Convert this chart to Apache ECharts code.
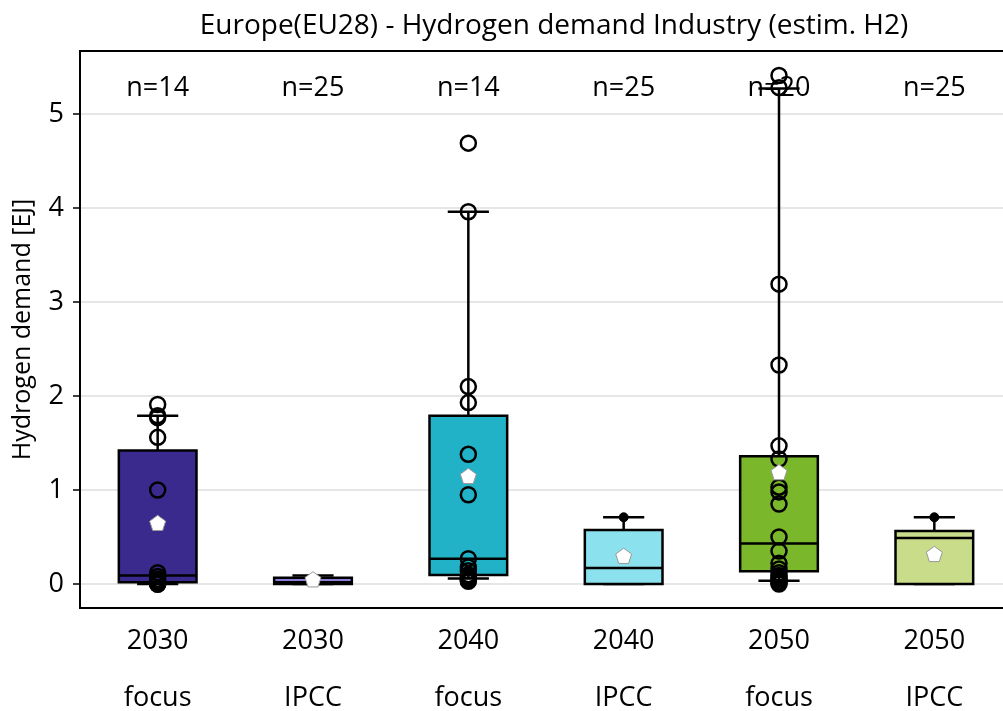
<!DOCTYPE html>
<html>
<head>
<meta charset="utf-8">
<script src="https://cdn.jsdelivr.net/npm/echarts@6/dist/echarts.min.js"></script>
<style>html,body{margin:0;padding:0;background:#fff}#chart{width:1003px;height:711px}</style>
</head>
<body>
<div id="chart"></div>
<script>
// ---- data ----
const years = ['2030', '2030', '2040', '2040', '2050', '2050'];
const groups = ['focus', 'IPCC', 'focus', 'IPCC', 'focus', 'IPCC'];
const nCounts = [14, 25, 14, 25, 20, 25];
const whiskerLow = [0.0, 0.0, 0.06, 0.0, 0.035, 0.0];
const q1 = [0.02, 0.0, 0.096, 0.0, 0.135, 0.0];
const median = [0.09, 0.02, 0.27, 0.17, 0.43, 0.49];
const q3 = [1.42, 0.067, 1.79, 0.574, 1.36, 0.564];
const whiskerHigh = [1.79, 0.09, 3.96, 0.71, 5.27, 0.71];
const means = [0.65, 0.05, 1.15, 0.30, 1.19, 0.32];
const points2030focus = [1.91, 1.79, 1.77, 1.56, 1.0, 0.12, 0.08, 0.05, 0.03, 0.02, 0.01, 0.0, 0.0, 0.0];
const points2040focus = [4.69, 3.96, 2.10, 1.93, 1.38, 0.95, 0.27, 0.18, 0.14, 0.10, 0.08, 0.06, 0.04, 0.03];
const points2050focus = [5.41, 5.28, 3.19, 2.33, 1.47, 1.33, 1.03, 0.98, 0.85, 0.50, 0.35, 0.22, 0.16, 0.12, 0.09, 0.07, 0.05, 0.03, 0.01, 0.0];
const fliers2040IPCC = [0.71];
const fliers2050IPCC = [0.71];
const yTicks = [0, 1, 2, 3, 4, 5];
const boxColors = ['#3b2a8d', '#8c7fd8', '#21b2c7', '#8ce1ef', '#7ab72b', '#c9dc8a'];

// ---- build ----
const FONT = 'Open Sans';
const catLabels = years.map((y, i) => y + '\n\n' + groups[i]);
const boxData = years.map((_, i) => [i, whiskerLow[i], q1[i], median[i], q3[i], whiskerHigh[i]]);
const pointData = [];
points2030focus.forEach(v => pointData.push([0, v]));
points2040focus.forEach(v => pointData.push([2, v]));
points2050focus.forEach(v => pointData.push([4, v]));
const flierData = [];
fliers2040IPCC.forEach(v => flierData.push([3, v]));
fliers2050IPCC.forEach(v => flierData.push([5, v]));
const meanData = means.map((m, i) => [i, m]);
const nLabelData = nCounts.map((n, i) => [i, 5.27, n]);

const pentagon = 'path://M0,-1 L0.951,-0.309 L0.588,0.809 L-0.588,0.809 L-0.951,-0.309 Z';

const chart = echarts.init(document.getElementById('chart'), null, {renderer: 'canvas'});
chart.setOption({
  animation: false,
  backgroundColor: '#fff',
  title: {
    text: 'Europe(EU28) - Hydrogen demand Industry (estim. H2)',
    left: 549, top: 7, textAlign: 'center',
    textStyle: {fontFamily: FONT, fontSize: 28, fontWeight: 'normal', color: '#000'}
  },
  grid: {
    left: 80, top: 51, width: 932, height: 557,
    outerBoundsMode: 'none', containLabel: false,
    show: true, borderColor: '#000', borderWidth: 2, backgroundColor: 'transparent'
  },
  xAxis: {
    type: 'category', data: catLabels, boundaryGap: true,
    axisLine: {onZero: false, lineStyle: {color: '#000', width: 2}},
    axisTick: {alignWithLabel: true, length: 7, lineStyle: {color: '#000', width: 1.5}},
    axisLabel: {fontFamily: FONT, fontSize: 27, color: '#000', margin: 19, lineHeight: 28.5},
    splitLine: {show: false}
  },
  yAxis: {
    type: 'value', min: -0.255, max: 5.67,
    name: 'Hydrogen demand [EJ]', nameLocation: 'middle', nameGap: 45,
    nameTextStyle: {fontFamily: FONT, fontSize: 25, color: '#000'},
    axisLine: {show: true, onZero: false, lineStyle: {color: '#000', width: 2}},
    axisTick: {show: true, length: 7, customValues: yTicks, lineStyle: {color: '#000', width: 1.5}},
    axisLabel: {fontFamily: FONT, fontSize: 27, color: '#000', margin: 16, customValues: yTicks},
    splitLine: {show: true, lineStyle: {color: '#e6e6e6', width: 2}}
  },
  series: [
    {
      type: 'scatter', z: 1, silent: true,
      data: nLabelData, symbolSize: 0,
      itemStyle: {opacity: 1},
      label: {
        show: true, position: 'inside', formatter: p => 'n=' + p.value[2],
        fontFamily: FONT, fontSize: 27, color: '#000'
      }
    },
    {
      type: 'custom', z: 2,
      data: boxData,
      encode: {x: 0, y: [1, 2, 3, 4, 5]},
      renderItem: function (params, api) {
        const i = api.value(0);
        const x = api.coord([i, 0])[0];
        const yLow = api.coord([i, api.value(1)])[1];
        const yQ1 = api.coord([i, api.value(2)])[1];
        const yMed = api.coord([i, api.value(3)])[1];
        const yQ3 = api.coord([i, api.value(4)])[1];
        const yHigh = api.coord([i, api.value(5)])[1];
        const bw = api.size([1, 0])[0] * 0.5;
        const cw = bw * 0.53;
        const ls = {stroke: '#000', lineWidth: 2.5};
        return {
          type: 'group',
          children: [
            {type: 'line', shape: {x1: x, y1: yHigh, x2: x, y2: yQ3}, style: ls},
            {type: 'line', shape: {x1: x, y1: yQ1, x2: x, y2: yLow}, style: ls},
            {type: 'line', shape: {x1: x - cw / 2, y1: yHigh, x2: x + cw / 2, y2: yHigh}, style: ls},
            {type: 'line', shape: {x1: x - cw / 2, y1: yLow, x2: x + cw / 2, y2: yLow}, style: ls},
            {type: 'rect', shape: {x: x - bw / 2, y: yQ3, width: bw, height: yQ1 - yQ3},
              style: {fill: boxColors[params.dataIndex], stroke: '#000', lineWidth: 2.5}},
            {type: 'line', shape: {x1: x - bw / 2, y1: yMed, x2: x + bw / 2, y2: yMed}, style: ls}
          ]
        };
      }
    },
    {
      type: 'scatter', z: 3, silent: true,
      data: pointData, symbol: 'circle', symbolSize: 15,
      itemStyle: {color: 'rgba(0,0,0,0)', borderColor: '#000', borderWidth: 2.5, opacity: 1}
    },
    {
      type: 'scatter', z: 3, silent: true,
      data: flierData, symbol: 'circle', symbolSize: 9,
      itemStyle: {color: '#000', borderColor: '#000', borderWidth: 1, opacity: 1}
    },
    {
      type: 'scatter', z: 4, silent: true,
      data: meanData, symbol: pentagon, symbolSize: 16, symbolKeepAspect: true,
      itemStyle: {color: '#fff', borderColor: '#999', borderWidth: 1, opacity: 1}
    }
  ]
});
</script>
</body>
</html>
